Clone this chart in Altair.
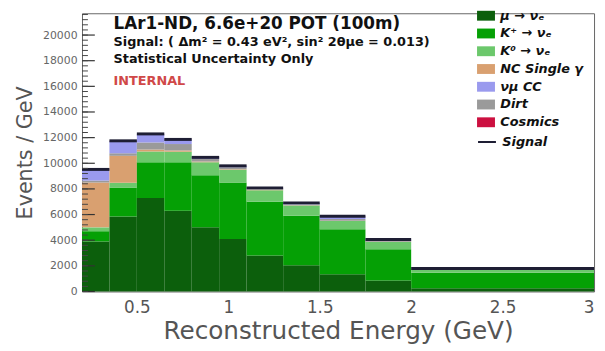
import altair as alt
import pandas as pd

# ---- data ----
edges = [0.2, 0.35, 0.5, 0.65, 0.8, 0.95, 1.1, 1.3, 1.5, 1.75, 2.0, 3.0]
mu_nue = [3900, 5850, 7300, 6300, 5000, 4100, 2800, 2050, 1350, 850, 250]
kplus_nue = [800, 2230, 2770, 3770, 4070, 4400, 4200, 3850, 3500, 2450, 1210]
k0_nue = [300, 400, 850, 830, 1000, 1000, 900, 800, 650, 550, 250]
nc_gamma = [3500, 2100, 150, 100, 60, 40, 30, 20, 20, 20, 10]
dirt = [150, 200, 550, 500, 200, 150, 80, 80, 130, 80, 40]
numu_cc = [850, 950, 650, 350, 120, 100, 60, 100, 200, 100, 30]
cosmics = [20, 20, 20, 10, 10, 10, 10, 10, 10, 10, 5]

legend_names = ["μ → νₑ", "K⁺ → νₑ", "K⁰ → νₑ", "NC Single γ", "νμ CC", "Dirt", "Cosmics"]
legend_colors = ["#0c5f0c", "#05a005", "#6cc86c", "#d9a070", "#9a9aee", "#9a9a9a", "#cc1040"]
signal_name = "Signal"
signal_color = "#1e1e34"

# stacking order (bottom to top) as seen in the picture
stack = [
    ("μ → νₑ", mu_nue),
    ("K⁺ → νₑ", kplus_nue),
    ("K⁰ → νₑ", k0_nue),
    ("NC Single γ", nc_gamma),
    ("Dirt", dirt),
    ("νμ CC", numu_cc),
    ("Cosmics", cosmics),
]

rows = []
tops = []
for i in range(len(edges) - 1):
    base = 0
    for name, vals in stack:
        rows.append({"comp": name, "lo": edges[i], "hi": edges[i + 1],
                     "y0": base, "y1": base + vals[i]})
        base += vals[i]
    tops.append({"lo": edges[i], "hi": edges[i + 1], "y0": base, "sig": signal_name})
df = pd.DataFrame(rows)
tops_df = pd.DataFrame(tops)

major_ticks = list(range(0, 20001, 2000))
minor_ticks = list(range(0, 21601, 400))
x_tick_values = [0.5, 1, 1.5, 2, 2.5, 3]

text_lines = ["LAr1-ND, 6.6e+20 POT (100m)",
              "Signal: ( Δm² = 0.43 eV², sin² 2θμe = 0.013)",
              "Statistical Uncertainty Only",
              "INTERNAL"]
text_sizes = [17, 13, 13, 13]
text_colors = ["#111111", "#111111", "#111111", "#d04848"]
text_y = [11, 29, 46, 69]

FONT = "DejaVu Sans"

xscale = alt.Scale(domain=[0.2, 3.0], nice=False, zero=False)
yscale = alt.Scale(domain=[0, 21700], nice=False)

xaxis = alt.Axis(values=x_tick_values, format="~g", grid=False,
                 ticks=False, tickSize=0, domain=False,
                 labelFont=FONT, labelFontSize=17, labelColor="#555555",
                 labelPadding=8, labelFlush=True, labelOverlap=False,
                 title="Reconstructed Energy (GeV)", titleFont=FONT,
                 titleFontSize=25, titleFontWeight="normal",
                 titleColor="#555555", titlePadding=4)
yaxis = alt.Axis(values=major_ticks, format="d", grid=False,
                 ticks=False, tickSize=0, domain=False,
                 labelFont=FONT, labelFontSize=11, labelColor="#666666",
                 labelPadding=5, labelOverlap=False, labelBound=False,
                 title="Events / GeV", titleFont=FONT, titleFontSize=21,
                 titleFontWeight="normal", titleColor="#555555",
                 titlePadding=7)

rect_path = "M-1,-0.55L1,-0.55L1,0.55L-1,0.55Z"

leg_common = dict(title=None, labelFont=FONT, labelFontSize=13, labelFontWeight="bold",
                  labelFontStyle="italic", labelColor="#111111", labelOffset=5,
                  rowPadding=1, orient="none")

bars = alt.Chart(df).mark_rect().encode(
    x=alt.X("lo:Q", scale=xscale, axis=xaxis, title="Reconstructed Energy (GeV)"),
    x2="hi:Q",
    y=alt.Y("y0:Q", scale=yscale, axis=yaxis, title="Events / GeV"),
    y2="y1:Q",
    fill=alt.Fill("comp:N",
                  scale=alt.Scale(domain=legend_names, range=legend_colors),
                  legend=alt.Legend(legendX=400, legendY=-7,
                                    symbolType=rect_path, symbolSize=330,
                                    symbolStrokeWidth=0, **leg_common)),
)

top_line = alt.Chart(tops_df).mark_rule(strokeWidth=3).encode(
    x=alt.X("lo:Q", scale=xscale, axis=xaxis, title="Reconstructed Energy (GeV)"),
    x2="hi:Q",
    y=alt.Y("y0:Q", scale=yscale, axis=yaxis, title="Events / GeV"),
    stroke=alt.Stroke("sig:N", scale=alt.Scale(domain=[signal_name], range=[signal_color]),
                      legend=alt.Legend(legendX=400, legendY=120,
                                        symbolType="stroke", symbolSize=330,
                                        symbolStrokeWidth=2, **leg_common)),
)

major = alt.Chart(pd.DataFrame({"y0": major_ticks})).mark_tick(
    orient="horizontal", size=13, thickness=1.2, color="#333333", opacity=1).encode(
    y=alt.Y("y0:Q", scale=yscale, axis=yaxis, title="Events / GeV"), x=alt.value(6.5))
minor = alt.Chart(pd.DataFrame({"y0": minor_ticks})).mark_tick(
    orient="horizontal", size=6, thickness=1, color="#444444", opacity=1).encode(
    y=alt.Y("y0:Q", scale=yscale, axis=yaxis, title="Events / GeV"), x=alt.value(3))

texts = alt.Chart(pd.DataFrame({"t": text_lines, "s": text_sizes, "c": text_colors, "yy": text_y})).mark_text(
    font=FONT, fontWeight="bold", align="left", baseline="middle").encode(
    x=alt.value(32),
    y=alt.Y("yy:Q", scale=None),
    text="t:N",
    size=alt.Size("s:Q", scale=None),
    color=alt.Color("c:N", scale=None),
)

chart = alt.layer(bars, top_line, major, minor, texts).properties(
    width=519, height=282,
    autosize=alt.AutoSizeParams(type="none"),
    padding={"left": 75, "top": 3, "right": 3, "bottom": 58},
).configure_view(stroke="#666666", strokeWidth=1)

chart.save("out.html", embed_options={"renderer": "svg", "actions": False})
